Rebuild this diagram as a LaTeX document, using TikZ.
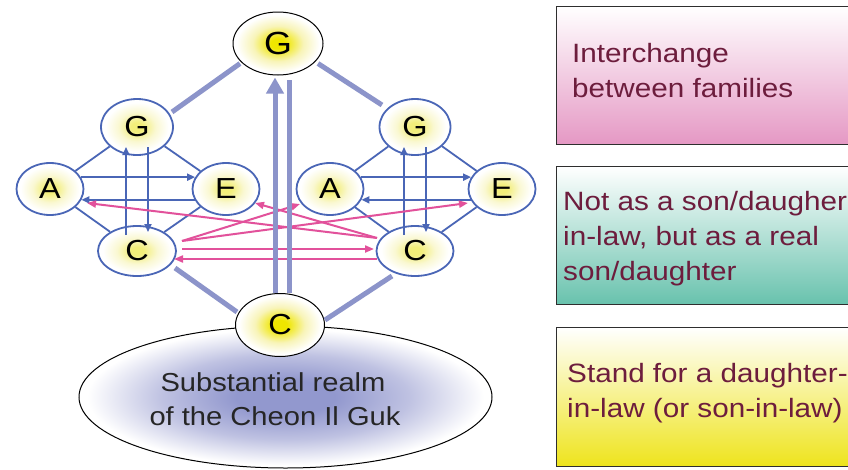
\documentclass[tikz,border=0pt]{standalone}
\usepackage{fontspec}
\setmainfont{Liberation Sans}[FakeStretch=1.12]
\usetikzlibrary{shapes.geometric,arrows.meta,calc}
\definecolor{palecore}{HTML}{F2EE7A}
\definecolor{paleedge}{HTML}{FAF8D2}
\definecolor{brightcore}{HTML}{EFE600}
\definecolor{brightedge}{HTML}{F8F4B8}
\definecolor{lavcore}{HTML}{9298CE}
\definecolor{lavmid}{HTML}{BFC2E2}
\definecolor{famblue}{HTML}{4A66B6}
\definecolor{pinkln}{HTML}{E2519B}
\definecolor{thickln}{HTML}{8C94CA}
\definecolor{boxtext}{HTML}{6D1D3D}
\definecolor{boxpink}{HTML}{E598C4}
\definecolor{boxteal}{HTML}{68C2AD}
\definecolor{boxyellow}{HTML}{EEE41C}
\definecolor{boxedge}{HTML}{2E2E2E}
\pgfdeclareradialshading{glowpale}{\pgfpoint{0bp}{0bp}}{color(0bp)=(palecore); color(4bp)=(palecore); color(13bp)=(paleedge); color(22bp)=(white); color(50bp)=(white)}
\pgfdeclareradialshading{glowbright}{\pgfpoint{0bp}{0bp}}{color(0bp)=(brightcore); color(4bp)=(brightcore); color(14bp)=(brightedge); color(23bp)=(white); color(50bp)=(white)}
\pgfdeclareradialshading{glowlav}{\pgfpoint{0bp}{0bp}}{color(0bp)=(lavcore); color(6bp)=(lavcore); color(15bp)=(lavmid); color(24bp)=(white); color(50bp)=(white)}
\tikzset{
  fam/.style={ellipse, draw=famblue, line width=1.8pt, shading=glowpale, inner sep=0pt,
    font=\fontsize{29}{29}\selectfont, text=black},
  hub/.style={ellipse, draw=black, line width=1pt, shading=glowbright, inner sep=0pt, text=black},
  realm/.style={ellipse, draw=black, line width=1pt, shading=glowlav, inner sep=0pt},
  famline/.style={draw=famblue, line width=1.8pt},
  famarrow/.style={famline, -{Triangle[width=7pt,length=8pt]}},
  pinkarrow/.style={draw=pinkln, line width=2pt, -{Triangle[width=7pt,length=9pt]}},
  bigline/.style={draw=thickln, line width=5pt},
  infobox/.style={rectangle, draw=boxedge, line width=1pt, anchor=north west, minimum width=320pt, inner sep=0pt},
  boxline/.style={anchor=base west, inner sep=0pt, text=boxtext, font=\fontsize{26.5}{35}\selectfont},
  realmtext/.style={anchor=base, inner sep=0pt, text=black!85, font=\fontsize{26}{34}\selectfont}
}
\begin{document}
\begin{tikzpicture}[x=1pt,y=-1pt]
\useasboundingbox (0,0) rectangle (848,469);
\clip (0,0) rectangle (848,469);
\fill[white] (0,0) rectangle (848,469);

% right-hand boxes
\node[infobox, top color=white, bottom color=boxpink, minimum height=138pt] (b1) at (556,6) {};
\node[infobox, top color=white, bottom color=boxteal, minimum height=138pt] (b2) at (556,166) {};
\node[infobox, top color=white, bottom color=boxyellow, minimum height=139pt] (b3) at (556,327) {};
\node[boxline] (t11) at (572,62) {Interchange};
\node[boxline] (t12) at (572,97) {between families};
\node[boxline] (t21) at (563,210) {Not as a son/daugher};
\node[boxline] (t22) at (563,245) {in-law, but as a real};
\node[boxline] (t23) at (563,280) {son/daughter};
\node[boxline] (t31) at (567,382) {Stand for a daughter-};
\node[boxline] (t32) at (567,417) {in-law (or son-in-law)};

% realm
\node[realm, minimum width=413pt, minimum height=142pt] (realm) at (285.5,397) {};
\node[realmtext] (r1) at (273,391) {Substantial realm};
\node[realmtext] (r2) at (275,425) {of the Cheon Il Guk};

% hubs
\node[hub, minimum width=90pt, minimum height=63pt, font=\fontsize{32}{32}\selectfont] (tG) at (278,43.5) {G};
\node[hub, minimum width=89pt, minimum height=63pt, font=\fontsize{29}{29}\selectfont] (bC) at (280,325) {C};

% left family
\node[fam, minimum width=72pt, minimum height=56pt] (lG) at (137,127) {G};
\node[fam, minimum width=67pt, minimum height=52pt] (lA) at (50,189) {A};
\node[fam, minimum width=67pt, minimum height=52pt] (lE) at (226,189) {E};
\node[fam, minimum width=78pt, minimum height=50pt] (lC) at (137,251) {C};
% right family
\node[fam, minimum width=71pt, minimum height=56pt] (rG) at (415,127) {G};
\node[fam, minimum width=67pt, minimum height=52pt] (rA) at (330,189) {A};
\node[fam, minimum width=67pt, minimum height=52pt] (rE) at (502,189) {E};
\node[fam, minimum width=77pt, minimum height=50pt] (rC) at (415,251) {C};

% family connectors
\foreach \f in {l,r}{
  \draw[famline] (\f G) -- (\f A);
  \draw[famline] (\f G) -- (\f E);
  \draw[famline] (\f A) -- (\f C);
  \draw[famline] (\f E) -- (\f C);
  \draw[famarrow] (\f A.21) -- (\f E.159);
  \draw[famarrow] (\f E.199) -- (\f A.341);
  \draw[famarrow] ($(\f C.center)+(-11,-16)$) -- ($(\f G.center)+(-11,20)$);
  \draw[famarrow] ($(\f G.center)+(11,20)$) -- ($(\f C.center)+(11,-19)$);
}

% pink exchange arrows
\draw[pinkarrow] ($(lC.center)+(45,-10)$) -- ($(rA.center)+(-30,15)$);
\draw[pinkarrow] ($(lC.center)+(45,-10)$) -- ($(rE.center)+(-34,14)$);
\draw[pinkarrow] ($(rC.center)+(-38,-13)$) -- ($(lA.center)+(37,14)$);
\draw[pinkarrow] ($(rC.center)+(-38,-13)$) -- ($(lE.center)+(29,14)$);
\draw[pinkarrow] ($(lC.center)+(45,-2)$) -- ($(rC.center)+(-41,-2)$);
\draw[pinkarrow] ($(rC.center)+(-38,8)$) -- ($(lC.center)+(37,8)$);

% thick lavender links
\draw[bigline] ($(tG.center)+(-38,20)$) -- ($(lG.center)+(35,-15)$);
\draw[bigline] ($(tG.center)+(40,20)$) -- ($(rG.center)+(-33,-22)$);
\draw[bigline] ($(lC.center)+(38,17)$) -- ($(bC.center)+(-43,-13)$);
\draw[bigline] ($(rC.center)+(-23,25)$) -- ($(bC.center)+(45,-5)$);
\draw[bigline, -{Triangle[width=17pt,length=16pt]}] ($(bC.center)+(-5,-32)$) -- ($(tG.center)+(-3,34)$);
\draw[bigline] ($(bC.center)+(9,-32)$) -- ($(tG.center)+(11,36)$);
\end{tikzpicture}
\end{document}
